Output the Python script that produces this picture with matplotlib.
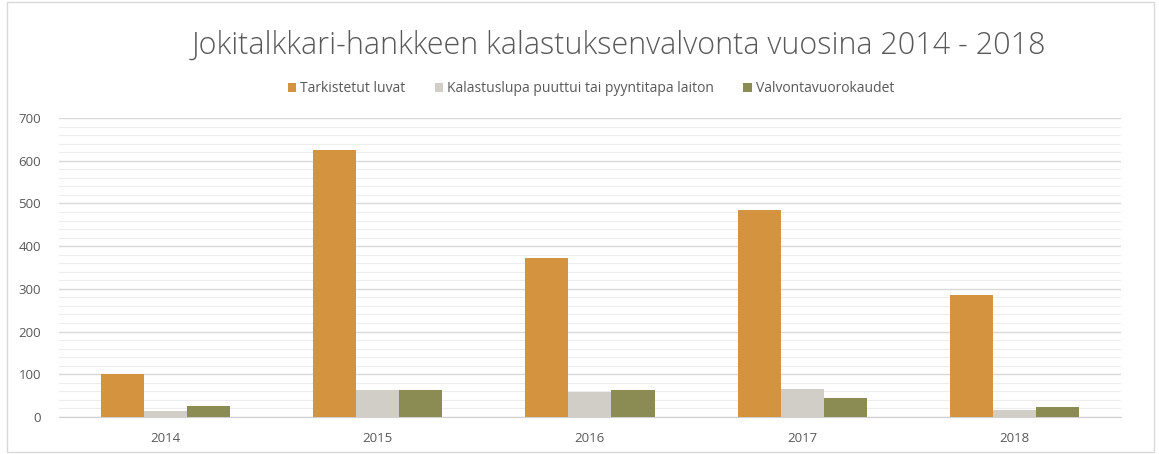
import matplotlib
matplotlib.use('agg')
import matplotlib.pyplot as plt
from matplotlib.patches import Rectangle
from matplotlib.ticker import MultipleLocator
import numpy as np

years = ['2014', '2015', '2016', '2017', '2018']
tarkistetut = [100, 625, 373, 485, 286]
ilman_lupaa = [15, 63, 58, 66, 17]
vuorokaudet = [25, 63, 63, 44, 24]

series = [
    ('Tarkistetut luvat', tarkistetut, '#D3933F'),
    ('Kalastuslupa puuttui tai pyyntitapa laiton', ilman_lupaa, '#D1CEC7'),
    ('Valvontavuorokaudet', vuorokaudet, '#8A8C54'),
]

plt.rcParams['font.family'] = ['Open Sans', 'DejaVu Sans']

fig = plt.figure(figsize=(11.59, 4.54), dpi=100)
ax = fig.add_axes([0.051, 0.0815, 0.916, 0.6585])

x = np.arange(len(years))
w = 0.203
for i, (name, vals, col) in enumerate(series):
    ax.bar(x + (i - 1) * w, vals, w, color=col, label=name, zorder=3)

ax.set_xlim(-0.5, len(years) - 0.5)
ax.set_ylim(0, 700)
ax.yaxis.set_major_locator(MultipleLocator(100))
ax.yaxis.set_minor_locator(MultipleLocator(20))
ax.set_xticks(x)
ax.set_xticklabels(years)
ax.grid(axis='y', which='major', color='#D9D9D9', linewidth=1.0, zorder=0)
ax.grid(axis='y', which='minor', color='#EDEDED', linewidth=0.8, zorder=0)
for s in ['top', 'right', 'left']:
    ax.spines[s].set_visible(False)
ax.spines['bottom'].set_color('#D0D0D0')
ax.tick_params(axis='both', which='both', length=0, colors='#595959', labelsize=9.5)
ax.tick_params(axis='y', pad=13)
ax.tick_params(axis='x', pad=11)

fig.text(0.534, 0.9, 'Jokitalkkari-hankkeen kalastuksenvalvonta vuosina 2014 - 2018',
         ha='center', va='center', fontsize=22, color='#595959', fontweight='light')

fig.legend(loc='center', bbox_to_anchor=(0.51, 0.805), ncol=3, frameon=False,
           fontsize=10, labelcolor='#595959', handlelength=0.6, handleheight=0.6,
           handletextpad=0.3, columnspacing=2.1)

fig.patches.append(Rectangle((0.006, 0.005), 0.99, 0.99, transform=fig.transFigure,
                             fill=False, edgecolor='#D9D9D9', linewidth=1))

fig.savefig('out.png')
